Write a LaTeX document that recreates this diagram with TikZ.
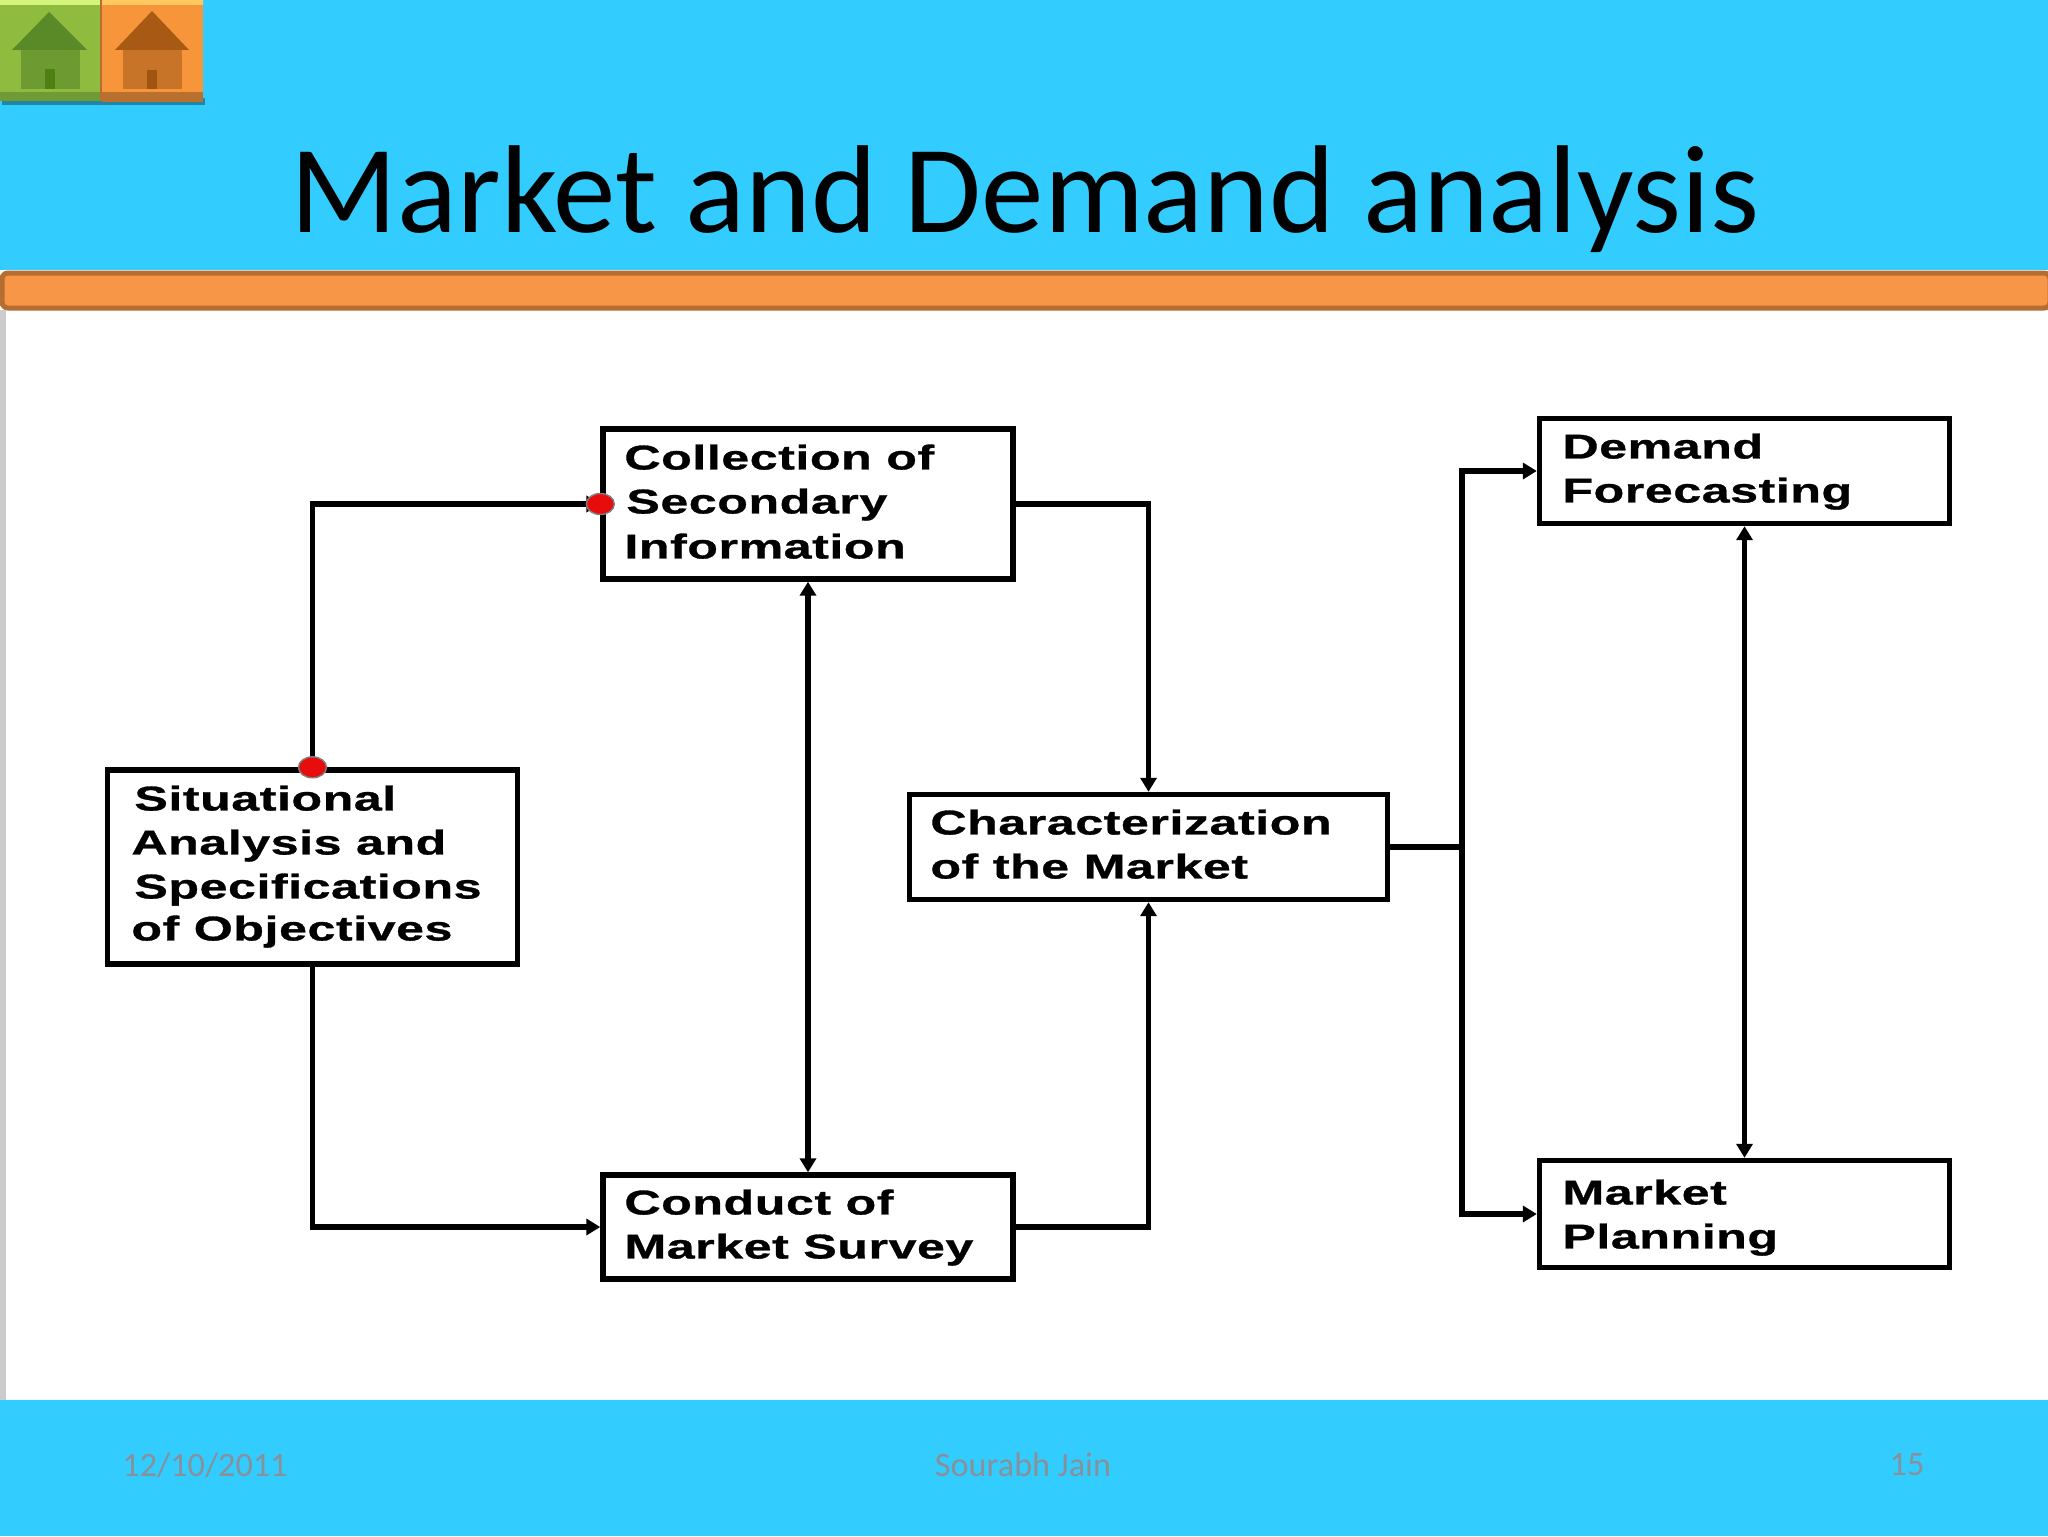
\documentclass[tikz,border=0pt]{standalone}
\usepackage{fontspec}
\setmainfont{Carlito}
\newfontfamily\boxfont[FakeStretch=1.46,FakeBold=0.9,LetterSpace=1.5]{Liberation Sans Bold}
\usetikzlibrary{arrows.meta,calc,shapes.geometric}
\definecolor{skyband}{HTML}{33CCFF}
\definecolor{barfill}{HTML}{F79646}
\definecolor{barline}{HTML}{B66D31}
\definecolor{foot}{HTML}{88909A}
\definecolor{gface}{HTML}{8FBC3E}
\definecolor{gtop}{HTML}{D4F57C}
\definecolor{gbot}{HTML}{6F9A34}
\definecolor{groof}{HTML}{5A8A28}
\definecolor{gbody}{HTML}{6E9A32}
\definecolor{gdoor}{HTML}{4F8012}
\definecolor{oface}{HTML}{F7953A}
\definecolor{otop}{HTML}{FFC860}
\definecolor{obot}{HTML}{B8702F}
\definecolor{oroof}{HTML}{A85A14}
\definecolor{obody}{HTML}{C87428}
\definecolor{odoor}{HTML}{A05410}
\tikzset{
  flowbox/.style={draw=black,line width=2.7pt,fill=white,rectangle,minimum width=#1,inner sep=0pt},
  boxtext/.style={font=\boxfont\fontsize{17.2}{22}\selectfont,anchor=west,align=left,inner sep=0pt,text depth=0pt},
  link/.style={draw=black,line width=2.6pt},
  arrow/.style={link,-{Triangle[length=7pt,width=8pt]}},
  both/.style={link,{Triangle[length=7pt,width=8pt]}-{Triangle[length=7pt,width=8pt]}},
  hot/.style={ellipse,fill=red!90!black!95!white,draw=gray,line width=.7pt,minimum width=14pt,minimum height=10.5pt,inner sep=0pt},
  foottext/.style={font=\fontsize{17.1}{20}\selectfont,text=foot,inner sep=0pt},
}
\begin{document}
\begin{tikzpicture}[x=0.5pt,y=-0.5pt]
\useasboundingbox (0,0) rectangle (2048,1536);
\fill[white] (0,0) rectangle (2048,1536);
\fill[skyband] (0,0) rectangle (2048,270);
\fill[skyband] (0,1400) rectangle (2048,1536);
\fill[gray!40] (0,310) rectangle (6,1400);
% home buttons
\fill[black!35!skyband] (2,98) rectangle (205,105);
\fill[gface] (0,0) rectangle (100,100);
\fill[gtop] (0,0) rectangle (100,5);
\fill[gbot] (0,92) rectangle (100,101);
\fill[barline] (100,0) rectangle (103,101);
\fill[oface] (102,0) rectangle (203,100);
\fill[otop] (102,0) rectangle (203,5);
\fill[obot] (102,92) rectangle (203,102);
\fill[groof] (12,50) -- (49,12) -- (87,50) -- cycle;
\fill[gbody] (21,50) rectangle (80,89);
\fill[gdoor] (45,69) rectangle (55,89);
\fill[oroof] (115,50) -- (152,11) -- (189,50) -- cycle;
\fill[obody] (123,50) rectangle (182,89);
\fill[odoor] (147,70) rectangle (157,89);
% title and bar
\node[font=\fontsize{62.5}{74}\selectfont,anchor=base,inner sep=0pt] (title) at (1025,232) {Market and Demand analysis};
\draw[barline,fill=barfill,line width=2.5pt,rounded corners=3pt] (2,273) rectangle (2050,308);
% boxes
\node[flowbox=205pt,minimum height=75pt] (coll) at (808,504) {};
\node[flowbox=205pt,minimum height=97pt] (sit) at (312.5,867) {};
\node[flowbox=205pt,minimum height=52pt] (cond) at (808,1227) {};
\node[flowbox=239pt,minimum height=52.5pt] (char) at (1148.5,847) {};
\node[flowbox=205pt,minimum height=52.5pt] (dem) at (1744.5,471) {};
\node[flowbox=205pt,minimum height=53.5pt] (plan) at (1744.5,1214) {};
% box labels
\node[boxtext] (t1) at (624,457) {Collection of};
\node[boxtext] (t2) at (626,501) {Secondary};
\node[boxtext] (t3) at (624,546) {Information};
\node[boxtext] (t4) at (134,798) {Situational};
\node[boxtext] (t5) at (131,842) {Analysis and};
\node[boxtext] (t6) at (134,886) {Specifications};
\node[boxtext] (t7) at (131,928) {of Objectives};
\node[boxtext] (t8) at (930,822) {Characterization};
\node[boxtext] (t9) at (930,866) {of the Market};
\node[boxtext] (t10) at (624,1202) {Conduct of};
\node[boxtext] (t11) at (624,1246) {Market Survey};
\node[boxtext] (t12) at (1562,446) {Demand};
\node[boxtext] (t13) at (1562,490) {Forecasting};
\node[boxtext] (t14) at (1562,1192) {Market};
\node[boxtext] (t15) at (1562,1236) {Planning};
% connectors
\coordinate (trunk) at (1462,847);
\draw[arrow] (sit.north) |- (coll.west);
\draw[arrow] (sit.south) |- (cond.west);
\draw[both] (coll.south) -- (cond.north);
\draw[arrow] (coll.east) -| (char.north);
\draw[arrow] (cond.east) -| (char.south);
\draw[link] (char.east) -- (trunk);
\draw[arrow] (trunk) |- (dem.west);
\draw[arrow] (trunk) |- (plan.west);
\draw[both] (dem.south) -- (plan.north);
\node[hot] (h1) at (coll.west) {};
\node[hot] (h2) at (sit.north) {};
% footer
\node[foottext] (date) at (205,1465) {12/10/2011};
\node[foottext] (name) at (1023,1465) {Sourabh Jain};
\node[foottext] (num) at (1907,1465) {15};
\end{tikzpicture}
\end{document}
